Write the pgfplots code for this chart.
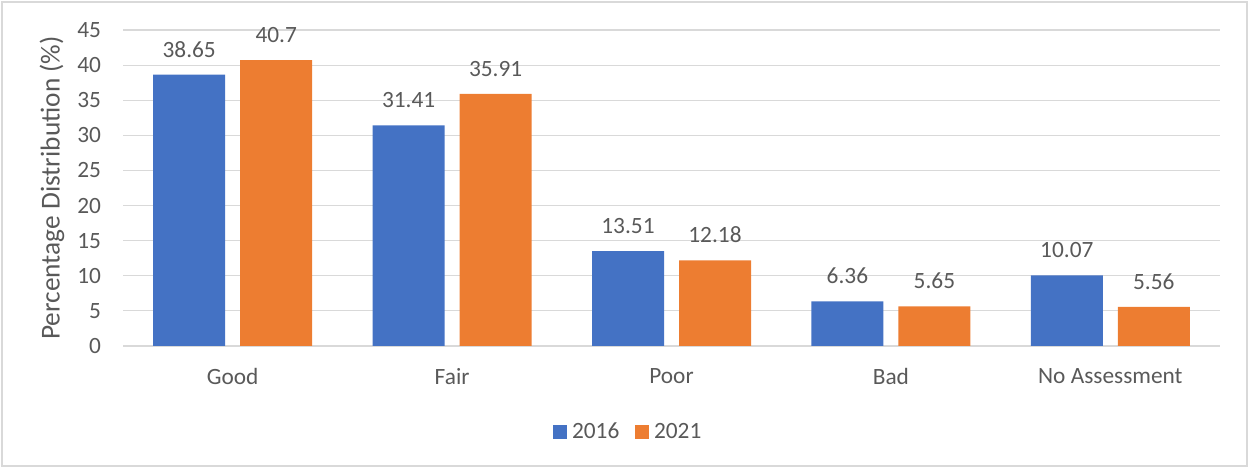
\documentclass[border=0pt]{standalone}
\usepackage{pgfplots}
\pgfplotsset{compat=1.18}
\usepackage{fontspec}
\setmainfont{Carlito}
\definecolor{cblue}{HTML}{4472C4}
\definecolor{corange}{HTML}{ED7D31}
\definecolor{ctext}{HTML}{595959}
\definecolor{cgrid}{HTML}{D9D9D9}
\begin{document}
\begin{tikzpicture}
\begin{axis}[
  name=ax,
  scale only axis,
  width=822.75pt, height=237pt,
  ybar=11.25pt, bar width=54pt,
  xmin=-0.5, xmax=4.5,
  ymin=0, ymax=45,
  ytick={0,5,...,45},
  xtick=data,
  xticklabels={Good,Fair,Poor,Bad,No Assessment},
  major tick length=0pt,
  axis line style={draw=none},
  ymajorgrids, grid style={cgrid, line width=0.9pt},
  tick label style={font=\fontsize{17.5}{20}\selectfont, color=ctext},
  /pgf/number format/assume math mode=true,
  yticklabel style={xshift=-13pt},
  xticklabel style={yshift=-13pt},
  ylabel={Percentage Distribution (\%)},
  every axis y label/.style={at={(rel axis cs:-0.0647,0.5)}, rotate=90, anchor=center},
  ylabel style={font=\fontsize{20.5}{24}\selectfont, color=ctext},
  nodes near coords,
  nodes near coords style={font=\fontsize{17.5}{20}\selectfont, color=ctext, yshift=9.5pt, /pgf/number format/assume math mode=true},
  point meta=explicit symbolic,
  legend style={at={(0.461,-0.272)}, anchor=center, draw=none, legend columns=2,
    font=\fontsize{17.5}{20}\selectfont, text=ctext,
    /tikz/every even column/.append style={column sep=10pt},
    /tikz/every odd column/.append style={column sep=1.5pt}},
  legend image code/.code={\fill[#1] (0pt,-5.25pt) rectangle (10.5pt,5.25pt);},
  clip=false,
]
\addplot[fill=cblue, draw=none] coordinates {(0,38.65)[38.65] (1,31.41)[31.41] (2,13.51)[13.51] (3,6.36)[6.36] (4,10.07)[10.07]};
\addplot[fill=corange, draw=none] coordinates {(0,40.7)[40.7] (1,35.91)[35.91] (2,12.18)[12.18] (3,5.65)[5.65] (4,5.56)[5.56]};
\legend{2016,2021}
\end{axis}
\draw[cgrid, line width=1pt] ([xshift=-90.75pt,yshift=-90pt]ax.south west) rectangle ([xshift=20.25pt,yshift=21pt]ax.north east);
\useasboundingbox ([xshift=-92.25pt,yshift=-91.5pt]ax.south west) rectangle ([xshift=22.5pt,yshift=22.5pt]ax.north east);
\end{tikzpicture}
\end{document}
